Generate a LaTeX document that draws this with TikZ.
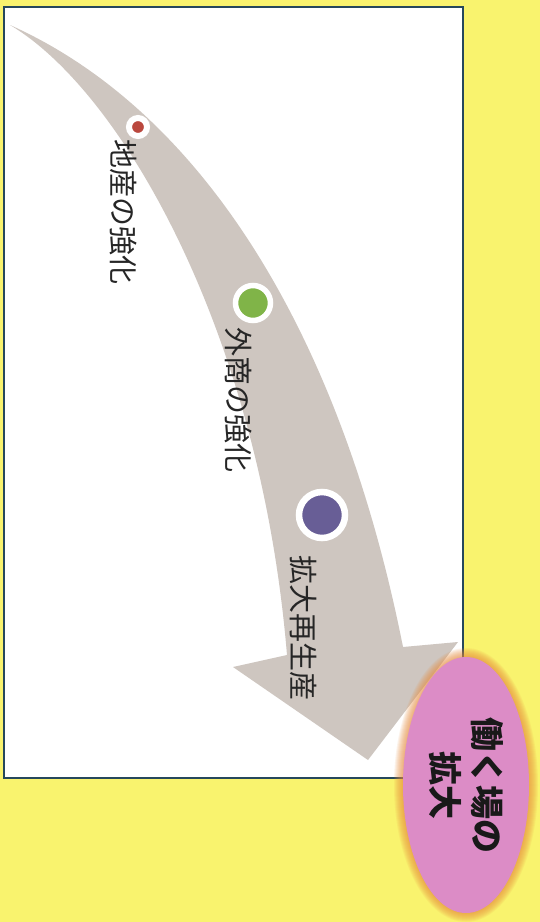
\documentclass[tikz,border=0pt]{standalone}
\usepackage{fontspec}
\newfontfamily\jp{Noto Sans CJK JP}
\usetikzlibrary{shapes.geometric}
\definecolor{bgyel}{RGB}{249,243,110}
\definecolor{framec}{RGB}{38,72,92}
\definecolor{flow}{RGB}{206,198,192}
\definecolor{dotred}{RGB}{186,72,62}
\definecolor{dotgreen}{RGB}{128,180,72}
\definecolor{dotpurple}{RGB}{104,94,150}
\definecolor{goalpink}{RGB}{220,140,198}
\definecolor{glowc}{RGB}{232,140,60}
\tikzset{lbl/.style={rotate=-90,inner sep=0pt,font=\jp\fontsize{29}{31}\selectfont,text=black!85}}
\tikzset{pt/.style={circle,draw=white,inner sep=0pt}}
\tikzset{goal/.style={ellipse,rotate=-90,fill=goalpink,minimum width=256pt,minimum height=126pt,
  inner sep=0pt,align=center,text=black!90,font=\jp\bfseries\fontsize{34}{42}\selectfont}}

\begin{document}
\begin{tikzpicture}[x=1pt,y=-1pt]
\useasboundingbox (0,0) rectangle (540,922);
\fill[bgyel] (0,0) rectangle (540,922);
\draw[framec,line width=1.6pt,fill=white] (4,7) rectangle (463,778);

\fill[flow] (10,25) .. controls (200,110) and (340,330) .. (403,647)
 -- (458,642) -- (368,760) -- (233,667) -- (287,655)
 .. controls (260,330) and (120,90) .. cycle;

\node[pt,fill=dotred,line width=6pt,minimum size=18pt] (red) at (138,127) {};
\node[pt,fill=dotgreen,line width=5.5pt,minimum size=35pt] (green) at (253,303) {};
\node[pt,fill=dotpurple,line width=6.5pt,minimum size=46pt] (purple) at (322,515) {};

\node[lbl] (local) at (123,212) {地産の強化};
\node[lbl] (trade) at (238,400) {外商の強化};
\node[lbl] (growth) at (303,628) {拡大再生産};

\foreach \g in {1,...,11}
  \fill[glowc,opacity=0.1] (466,785) ellipse [x radius={61+\g}, y radius={126+\g}];
\node[goal] (jobs) at (466,785) {働く場の\\拡大};
\end{tikzpicture}
\end{document}
